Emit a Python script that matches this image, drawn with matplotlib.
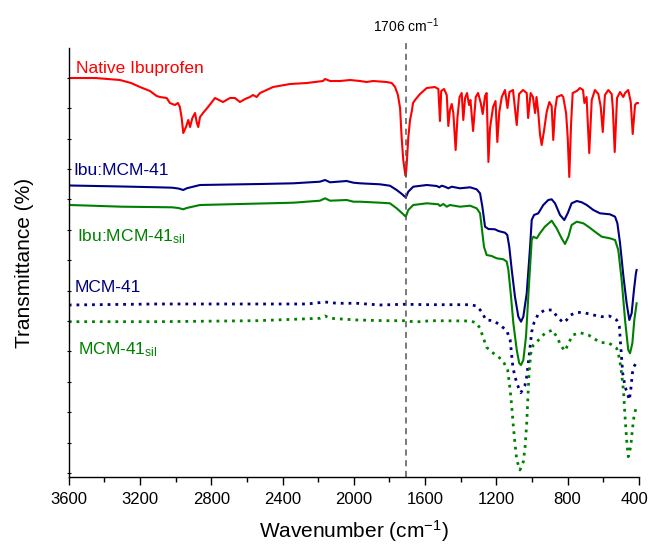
import numpy as np
import matplotlib
matplotlib.use("Agg")
import matplotlib.pyplot as plt
import matplotlib.transforms as mtransforms

plt.rcParams['font.family'] = ['Liberation Sans', 'DejaVu Sans']
plt.rcParams['mathtext.fontset'] = 'custom'
plt.rcParams['mathtext.rm'] = 'Liberation Sans'
plt.rcParams['mathtext.it'] = 'Liberation Sans'

# ---- FTIR spectra (wavenumber in cm-1, transmittance in arbitrary offset units) ----
ibu_wn = [3600, 3593, 3450, 3312, 3250, 3200, 3144, 3106, 3088, 3050, 3032, 3004, 2987, 2976,
          2966, 2957, 2942, 2929, 2919, 2906, 2891, 2882, 2873, 2863, 2846, 2818, 2779, 2734,
          2695, 2667, 2639, 2610, 2583, 2566, 2545, 2526, 2453, 2358, 2264, 2173, 2161, 2133,
          2077, 2021, 1965, 1927, 1892, 1815, 1787, 1768, 1752, 1740, 1731, 1722, 1713, 1708,
          1703, 1694, 1684, 1675, 1667, 1656, 1628, 1590, 1545, 1525, 1516, 1509, 1493, 1478,
          1469, 1460, 1450, 1441, 1428, 1418, 1406, 1394, 1385, 1375, 1364, 1353, 1345, 1330,
          1315, 1302, 1287, 1276, 1263, 1254, 1244, 1235, 1218, 1204, 1194, 1183, 1169, 1151,
          1137, 1126, 1106, 1085, 1072, 1050, 1029, 1021, 1007, 994, 982, 974, 964, 954, 945,
          932, 917, 902, 889, 880, 870, 859, 833, 824, 808, 799, 790, 780, 771, 748, 730, 713,
          705, 693, 678, 664, 646, 627, 614, 602, 590, 571, 552, 545, 535, 522, 505, 487, 477,
          459, 445, 434, 421, 412, 405]
ibu_t = [400, 400, 400, 398, 395, 391, 387, 382, 381, 380, 375, 373, 375, 371,
         360, 345, 351, 358, 351, 360, 365, 356, 351, 361, 365, 371, 380, 376,
         380, 380, 376, 379, 381, 383, 381, 385, 391, 394, 395, 397, 399, 397,
         397, 398, 397, 396, 397, 396, 395, 391, 383, 370, 340, 318, 306, 302,
         313, 340, 358, 366, 375, 378, 384, 390, 391, 389, 357, 387, 389, 383,
         352, 368, 374, 365, 328, 360, 381, 385, 358, 380, 385, 373, 378, 347,
         381, 385, 375, 364, 382, 385, 316, 350, 371, 377, 336, 366, 381, 388,
         370, 386, 388, 353, 384, 388, 385, 360, 385, 381, 365, 381, 365, 343, 333,
         347, 366, 376, 372, 338, 368, 381, 383, 381, 365, 341, 301, 354, 385, 387, 390, 388,
         375, 381, 325, 378, 388, 384, 372, 346, 383, 388, 384, 368, 326, 380, 386, 381, 385,
         388, 376, 344, 373, 375, 375]

ibu_mcm_wn = [3600, 3593, 3300, 3100, 3020, 2985, 2957, 2938, 2863, 2526, 2339, 2190, 2161, 2133,
              2040, 2002, 1965, 1853, 1797, 1759, 1730, 1708, 1694, 1666, 1590, 1534, 1520, 1506,
              1488, 1469, 1450, 1404, 1347, 1310, 1291, 1278, 1263, 1244, 1207, 1188, 1151, 1138,
              1127, 1113, 1095, 1076, 1061, 1048, 1029, 1010, 1001, 988, 964, 936, 908, 889, 870,
              842, 818, 799, 777, 748, 720, 692, 655, 618, 562, 533, 520, 505, 486, 468, 453, 440,
              427, 416, 412]
ibu_mcm_t = [293, 292.5, 291.5, 290.7, 290.3, 289.5, 288, 289.7, 293, 294, 294.7, 296.3, 298, 295.7,
             297, 295.3, 294.7, 293.7, 292.3, 288, 284, 280.5, 286.3, 291.3, 293, 292, 290.7, 292.3,
             291.3, 289.7, 291.3, 289.7, 290.7, 288.7, 284.7, 271.3, 251.3, 249, 248.7, 247, 245.3, 243,
             231.3, 208, 181.3, 161.3, 156.3, 161.3, 184.7, 231.3, 258, 263, 264.7, 273, 278, 278.7, 274.7,
             263, 258, 264.7, 274.7, 277, 275.7, 273, 268, 264.7, 263.7, 261.3, 254.7, 234.7, 201.3, 174.7, 158, 164.7,
             188, 204.7, 208]

ibu_mcm_sil_wn = [3600, 3593, 3300, 3020, 2985, 2957, 2938, 2863, 2339, 2190, 2161, 2133, 2040, 2002,
                  1965, 1853, 1797, 1759, 1730, 1708, 1694, 1666, 1590, 1525, 1516, 1497, 1478, 1460,
                  1404, 1347, 1310, 1291, 1282, 1269, 1254, 1226, 1198, 1160, 1141, 1132, 1117, 1104,
                  1085, 1071, 1061, 1048, 1033, 1017, 1001, 992, 973, 955, 927, 889, 861, 833, 814,
                  795, 777, 748, 711, 683, 646, 608, 562, 533, 515, 496, 477, 459, 449, 436, 425, 412]
ibu_mcm_sil_t = [273, 273, 271.3, 270.7, 270, 268.7, 270, 273, 275.3, 277.3, 279.7, 277.3, 278, 276.3,
                 276.3, 275.3, 274.7, 269.7, 265, 261.3, 268, 273, 274.7, 273.7, 272, 274, 271.3, 273,
                 271.3, 272.3, 269.7, 264.7, 251.3, 231.3, 223, 222, 219.7, 218.7, 216.3, 208, 181.3, 154.7,
                 128, 114.7, 113, 118, 141.3, 191.3, 238, 241.3, 239.7, 244.7, 251.3, 257.3, 249.7, 239.7, 234,
                 241.3, 253, 256.3, 254.7, 251.3, 246.3, 241.3, 239.7, 238, 228, 198, 158, 128, 124.7, 134.7, 158, 174.7]

mcm_wn = [3600, 3593, 3104, 2542, 2261, 2161, 2095, 1983, 1853, 1722, 1573, 1347, 1310, 1282,
          1258, 1216, 1179, 1141, 1122, 1107, 1095, 1081, 1062, 1040, 1029, 1016, 1001, 988, 964,
          927, 886, 858, 824, 805, 782, 748, 707, 655, 608, 565, 524, 509, 501, 490, 477, 464,
          453, 445, 436, 427, 416]
mcm_t = [173, 173, 174, 174, 174, 176, 174.7, 174.7, 173, 173.7, 173.3, 173.3, 172, 166.3,
         158, 157.3, 153, 147.3, 138, 111.3, 101.3, 93, 85.3, 92, 101.3, 121.3, 146.3, 155.3, 164,
         168, 168, 161.3, 155.3, 158, 163, 165.7, 165.3, 163, 161.3, 162, 158, 151.3, 131.3, 104.7, 91.3, 84.7,
         78, 88, 104.7, 111.3, 114.7]

mcm_sil_wn = [3600, 3104, 2542, 2190, 2161, 2133, 1983, 1825, 1722, 1666, 1619, 1573, 1347, 1313,
              1291, 1272, 1254, 1216, 1188, 1160, 1136, 1122, 1113, 1104, 1095, 1085, 1067, 1048,
              1038, 1029, 1023, 1016, 1006, 992, 958, 927, 884, 861, 833, 814, 795, 770, 730, 683,
              618, 565, 524, 513, 501, 486, 477, 468, 459, 445, 436, 427, 416]
mcm_sil_t = [156.3, 156.3, 157.3, 159.7, 162, 159.7, 158, 157.3, 157.3, 156.3, 156.3, 157.3, 157, 155.3,
             149.7, 139.7, 130.7, 124.7, 121.3, 116.3, 108, 88, 71.3, 51.3, 34.7, 18, 8, 16.3,
             31.3, 54.7, 78, 104.7, 124.7, 133, 138.7, 144.7, 148, 141.3, 131.3, 127, 134.7, 143, 145.3, 143,
             135.7, 134.7, 129.7, 123, 111.3, 88, 61.3, 38, 21.3, 31.3, 48, 61.3, 69.7]

carbonyl_band = 1706

RED = '#FF0000'
NAVY = '#000080'
GREEN = '#008000'

fig = plt.figure(figsize=(6.51, 5.45), dpi=100)
ax = fig.add_axes([0.1056, 0.1239, 0.8756, 0.7880])

ax.plot(ibu_wn, ibu_t, color=RED, lw=1.5)
ax.plot(ibu_mcm_wn, ibu_mcm_t, color=NAVY, lw=1.5)
ax.plot(ibu_mcm_sil_wn, ibu_mcm_sil_t, color=GREEN, lw=1.5)
ax.plot(mcm_wn, mcm_t, color=NAVY, lw=2.0, ls=(0, (1, 1.8)))
ax.plot(mcm_sil_wn, mcm_sil_t, color=GREEN, lw=2.0, ls=(0, (1, 1.8)))

ax.axvline(carbonyl_band, color='#555555', lw=1.1, ls=(0, (4, 3)), ymax=1.02, clip_on=False)
ax.text(carbonyl_band, 1.03, '1706 cm$^{\\mathregular{-1}}$', transform=ax.get_xaxis_transform(),
        ha='center', va='bottom', fontsize=10)

# Series labels
lab_fs = 12.5
ax.text(3559, 410, 'Native Ibuprofen', color=RED, fontsize=lab_fs, va='center')
ax.text(3576, 308, 'Ibu:MCM-41', color=NAVY, fontsize=lab_fs, va='center')
ax.text(3554, 241, r'Ibu:MCM-41$_{\mathregular{sil}}$', color=GREEN, fontsize=lab_fs, va='center')
ax.text(3565, 190, 'MCM-41', color=NAVY, fontsize=lab_fs, va='center')
ax.text(3548, 128, r'MCM-41$_{\mathregular{sil}}$', color=GREEN, fontsize=lab_fs, va='center')

ax.set_xlim(3600, 400)
ax.set_ylim(0.5, 430)
ax.set_xticks(np.arange(3600, 399, -400))
ax.set_xticks(np.arange(3400, 399, -400), minor=True)
ax.set_yticks(np.arange(5, 420, 30.4))
ax.set_yticklabels([])

for side in ('top', 'right'):
    ax.spines[side].set_visible(False)
for side in ('left', 'bottom'):
    ax.spines[side].set_linewidth(1.0)

ax.tick_params(axis='x', which='major', direction='out', length=6, width=1.0,
               labelsize=12, pad=4.5)
ax.tick_params(axis='x', which='minor', direction='out', length=3.5, width=1.0)
ax.tick_params(axis='y', which='major', direction='inout', length=3, width=0.8)

# keep the last tick label inside the canvas
last_label = ax.get_xticklabels()[-1]
last_label.set_transform(last_label.get_transform() +
                         mtransforms.ScaledTranslation(-3 / 72, 0, fig.dpi_scale_trans))

ax.set_xlabel('Wavenumber (cm$^{\\mathregular{-1}}$)', fontsize=15, labelpad=8)
ax.set_ylabel('Transmittance (%)', fontsize=15, labelpad=20)

fig.savefig('out.png', dpi=100)
